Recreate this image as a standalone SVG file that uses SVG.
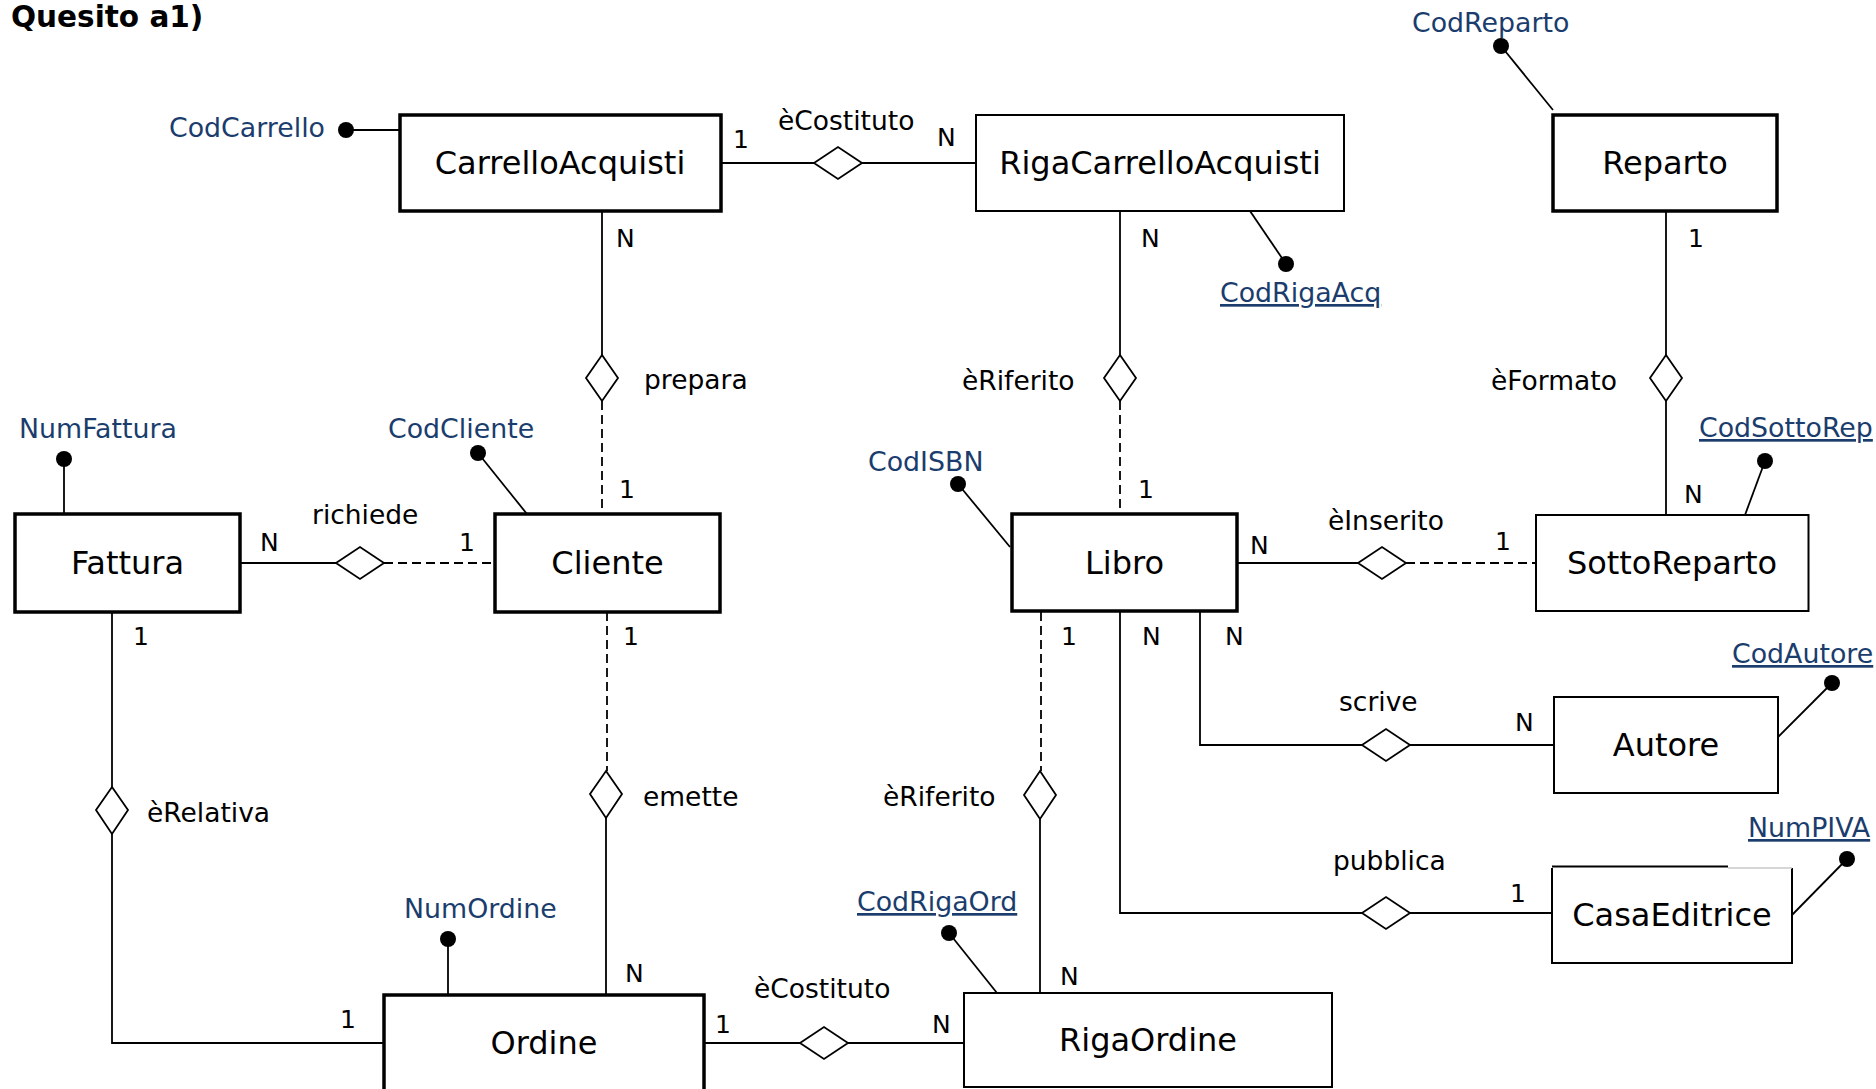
<svg xmlns="http://www.w3.org/2000/svg" width="1876" height="1089" viewBox="0 0 1876 1089">
<style>
  text { font-family: "DejaVu Sans", Verdana, "Liberation Sans", sans-serif; fill: #000; }
  .title { font-weight: bold; font-size: 29.5px; }
  .ent { font-size: 32px; text-anchor: middle; }
  .rel { font-size: 26.5px; }
  .card { font-size: 25px; }
  .attr { font-size: 26.8px; fill: #1b3d6d; }
  .key { text-decoration: underline; }
  .thick { fill: #fff; stroke: #000; stroke-width: 3.5; }
  .thin { fill: #fff; stroke: #000; stroke-width: 2; }
  .ln { fill: none; stroke: #000; stroke-width: 1.8; }
  .dash { fill: none; stroke: #000; stroke-width: 1.8; stroke-dasharray: 9 5; }
  .dia { fill: #fff; stroke: #000; stroke-width: 1.8; }
  .dot { fill: #000; }
</style>

<text class="title" x="11" y="27">Quesito a1)</text>

<g id="connectors">
  <!-- CarrelloAcquisti - eCostituto - RigaCarrelloAcquisti -->
  <line class="ln" x1="721" y1="163" x2="814" y2="163"/>
  <polygon class="dia" points="814,163 838,147 862,163 838,179"/>
  <line class="ln" x1="862" y1="163" x2="976" y2="163"/>
  <!-- CarrelloAcquisti - prepara - Cliente -->
  <line class="ln" x1="602" y1="211" x2="602" y2="355"/>
  <polygon class="dia" points="602,355 618,378 602,401 586,378"/>
  <line class="dash" x1="602" y1="401" x2="602" y2="514"/>
  <!-- RigaCarrelloAcquisti - eRiferito - Libro -->
  <line class="ln" x1="1120" y1="211" x2="1120" y2="355"/>
  <polygon class="dia" points="1120,355 1136,378 1120,401 1104,378"/>
  <line class="dash" x1="1120" y1="401" x2="1120" y2="514"/>
  <!-- Reparto - eFormato - SottoReparto -->
  <line class="ln" x1="1666" y1="211" x2="1666" y2="355"/>
  <polygon class="dia" points="1666,355 1682,378 1666,401 1650,378"/>
  <line class="ln" x1="1666" y1="401" x2="1666" y2="515"/>
  <!-- Fattura - richiede - Cliente -->
  <line class="ln" x1="240" y1="563" x2="336" y2="563"/>
  <polygon class="dia" points="336,563 360,547 384,563 360,579"/>
  <line class="dash" x1="384" y1="563" x2="495" y2="563"/>
  <!-- Libro - eInserito - SottoReparto -->
  <line class="ln" x1="1237" y1="563" x2="1358" y2="563"/>
  <polygon class="dia" points="1358,563 1382,547 1406,563 1382,579"/>
  <line class="dash" x1="1406" y1="563" x2="1536" y2="563"/>
  <!-- Fattura - eRelativa - Ordine -->
  <line class="ln" x1="112" y1="612" x2="112" y2="787"/>
  <polygon class="dia" points="112,787 128,810 112,834 96,810"/>
  <polyline class="ln" points="112,834 112,1043 384,1043"/>
  <!-- Cliente - emette - Ordine -->
  <line class="dash" x1="607" y1="612" x2="607" y2="771"/>
  <polygon class="dia" points="606,771 622,794 606,818 590,794"/>
  <line class="ln" x1="606" y1="818" x2="606" y2="995"/>
  <!-- Libro - eRiferito - RigaOrdine -->
  <line class="dash" x1="1041" y1="612" x2="1041" y2="771"/>
  <polygon class="dia" points="1040,771 1056,795 1040,819 1024,795"/>
  <line class="ln" x1="1040" y1="819" x2="1040" y2="993"/>
  <!-- Libro - scrive - Autore -->
  <polyline class="ln" points="1200,612 1200,745 1362,745"/>
  <polygon class="dia" points="1362,745 1386,729 1410,745 1386,761"/>
  <line class="ln" x1="1410" y1="745" x2="1554" y2="745"/>
  <!-- Libro - pubblica - CasaEditrice -->
  <polyline class="ln" points="1120,612 1120,913 1362,913"/>
  <polygon class="dia" points="1362,913 1386,897 1410,913 1386,929"/>
  <line class="ln" x1="1410" y1="913" x2="1552" y2="913"/>
  <!-- Ordine - eCostituto - RigaOrdine -->
  <line class="ln" x1="704" y1="1043" x2="800" y2="1043"/>
  <polygon class="dia" points="800,1043 824,1027 848,1043 824,1059"/>
  <line class="ln" x1="848" y1="1043" x2="964" y2="1043"/>
</g>

<g id="relationship-labels">
  <text class="rel" x="778" y="130">èCostituto</text>
  <text class="rel" x="644" y="389">prepara</text>
  <text class="rel" x="962" y="390">èRiferito</text>
  <text class="rel" x="1491" y="390">èFormato</text>
  <text class="rel" x="312" y="524">richiede</text>
  <text class="rel" x="1328" y="530">èInserito</text>
  <text class="rel" x="147" y="822">èRelativa</text>
  <text class="rel" x="643" y="806">emette</text>
  <text class="rel" x="883" y="806">èRiferito</text>
  <text class="rel" x="1339" y="711">scrive</text>
  <text class="rel" x="1333" y="870">pubblica</text>
  <text class="rel" x="754" y="998">èCostituto</text>
</g>

<g id="cardinalities">
  <text class="card" x="733" y="148">1</text>
  <text class="card" x="937" y="146">N</text>
  <text class="card" x="616" y="247">N</text>
  <text class="card" x="1141" y="247">N</text>
  <text class="card" x="1688" y="247">1</text>
  <text class="card" x="619" y="498">1</text>
  <text class="card" x="1138" y="498">1</text>
  <text class="card" x="1684" y="503">N</text>
  <text class="card" x="260" y="551">N</text>
  <text class="card" x="459" y="551">1</text>
  <text class="card" x="1250" y="554">N</text>
  <text class="card" x="1495" y="550">1</text>
  <text class="card" x="133" y="645">1</text>
  <text class="card" x="623" y="645">1</text>
  <text class="card" x="1061" y="645">1</text>
  <text class="card" x="1142" y="645">N</text>
  <text class="card" x="1225" y="645">N</text>
  <text class="card" x="1515" y="731">N</text>
  <text class="card" x="1510" y="902">1</text>
  <text class="card" x="625" y="982">N</text>
  <text class="card" x="1060" y="985">N</text>
  <text class="card" x="340" y="1028">1</text>
  <text class="card" x="715" y="1033">1</text>
  <text class="card" x="932" y="1033">N</text>
</g>

<g id="CarrelloAcquisti">
  <rect class="thick" x="400" y="115" width="321" height="96"/>
  <text class="ent" x="560" y="174">CarrelloAcquisti</text>
  <line class="ln" x1="346" y1="130" x2="400" y2="130"/>
  <circle class="dot" cx="346" cy="130" r="8"/>
  <text class="attr" x="169" y="137">CodCarrello</text>
</g>

<g id="RigaCarrelloAcquisti">
  <rect class="thin" x="976" y="115" width="368" height="96"/>
  <text class="ent" x="1160" y="174">RigaCarrelloAcquisti</text>
  <line class="ln" x1="1250" y1="211" x2="1286" y2="264"/>
  <circle class="dot" cx="1286" cy="264" r="8"/>
  <text class="attr key" x="1220" y="302">CodRigaAcq</text>
</g>

<g id="Reparto">
  <rect class="thick" x="1553" y="115" width="224" height="96"/>
  <text class="ent" x="1665" y="174">Reparto</text>
  <line class="ln" x1="1501" y1="46" x2="1553" y2="110"/>
  <circle class="dot" cx="1501" cy="46" r="8"/>
  <text class="attr" x="1412" y="32">CodReparto</text>
</g>

<g id="Fattura">
  <rect class="thick" x="15" y="514" width="225" height="98"/>
  <text class="ent" x="127.5" y="574">Fattura</text>
  <line class="ln" x1="64" y1="459" x2="64" y2="514"/>
  <circle class="dot" cx="64" cy="459" r="8"/>
  <text class="attr" x="19" y="438">NumFattura</text>
</g>

<g id="Cliente">
  <rect class="thick" x="495" y="514" width="225" height="98"/>
  <text class="ent" x="607.5" y="574">Cliente</text>
  <line class="ln" x1="478" y1="453" x2="527" y2="514"/>
  <circle class="dot" cx="478" cy="453" r="8"/>
  <text class="attr" x="388" y="438">CodCliente</text>
</g>

<g id="Libro">
  <rect class="thick" x="1012" y="514" width="225" height="97"/>
  <text class="ent" x="1124.5" y="574">Libro</text>
  <line class="ln" x1="958" y1="484" x2="1010" y2="547"/>
  <circle class="dot" cx="958" cy="484" r="8"/>
  <text class="attr" x="868" y="471">CodISBN</text>
</g>

<g id="SottoReparto">
  <rect class="thin" x="1536" y="515" width="272.5" height="96"/>
  <text class="ent" x="1672" y="574">SottoReparto</text>
  <line class="ln" x1="1765" y1="461" x2="1745" y2="515"/>
  <circle class="dot" cx="1765" cy="461" r="8"/>
  <text class="attr key" x="1699" y="437">CodSottoRep</text>
</g>

<g id="Autore">
  <rect class="thin" x="1554" y="697" width="224" height="96"/>
  <text class="ent" x="1666" y="756">Autore</text>
  <line class="ln" x1="1832" y1="683" x2="1778" y2="737"/>
  <circle class="dot" cx="1832" cy="683" r="8"/>
  <text class="attr key" x="1732" y="663">CodAutore</text>
</g>

<g id="CasaEditrice">
  <rect class="thin" x="1552" y="868" width="240" height="95" stroke-dasharray="0 240 431"/>
  <line x1="1552" y1="866.5" x2="1728" y2="866.5" stroke="#000" stroke-width="2.2"/>
  <line x1="1728" y1="868" x2="1792" y2="868" stroke="#c8c8c8" stroke-width="1.5"/>
  <text class="ent" x="1672" y="926">CasaEditrice</text>
  <line class="ln" x1="1847" y1="859" x2="1792" y2="915"/>
  <circle class="dot" cx="1847" cy="859" r="8"/>
  <text class="attr key" x="1748" y="837">NumPIVA</text>
</g>

<g id="Ordine">
  <rect class="thick" x="384" y="995" width="320" height="120"/>
  <text class="ent" x="544" y="1054">Ordine</text>
  <line class="ln" x1="448" y1="939" x2="448" y2="995"/>
  <circle class="dot" cx="448" cy="939" r="8"/>
  <text class="attr" x="404" y="918">NumOrdine</text>
</g>

<g id="RigaOrdine">
  <rect class="thin" x="964" y="993" width="368" height="94"/>
  <text class="ent" x="1148" y="1051">RigaOrdine</text>
  <line class="ln" x1="949" y1="933" x2="997" y2="993"/>
  <circle class="dot" cx="949" cy="933" r="8"/>
  <text class="attr key" x="857" y="911">CodRigaOrd</text>
</g>
</svg>
